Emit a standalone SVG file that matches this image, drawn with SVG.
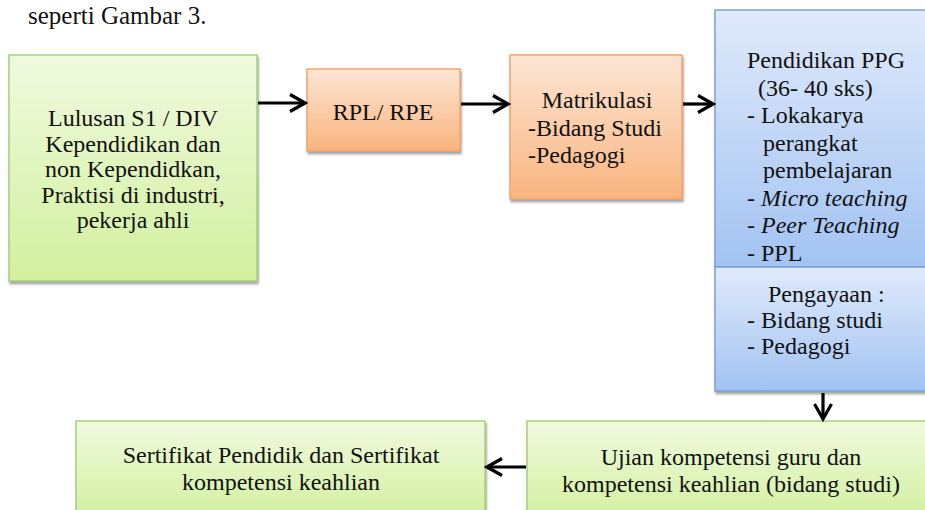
<svg xmlns="http://www.w3.org/2000/svg" width="925" height="510" viewBox="0 0 925 510">
<defs>
<linearGradient id="gGreen" x1="0" y1="0" x2="0" y2="1">
<stop offset="0" stop-color="#f0fadf"/>
<stop offset="1" stop-color="#d2f09e"/>
</linearGradient>
<linearGradient id="gOrange" x1="0" y1="0" x2="0" y2="1">
<stop offset="0" stop-color="#fde6d5"/>
<stop offset="1" stop-color="#f9b47f"/>
</linearGradient>
<linearGradient id="gBlue" x1="0" y1="0" x2="0" y2="1">
<stop offset="0" stop-color="#e0eafb"/>
<stop offset="1" stop-color="#a2c3f2"/>
</linearGradient>
<filter id="shadow" x="-5%" y="-5%" width="110%" height="115%">
<feDropShadow dx="1" dy="2.5" stdDeviation="1.2" flood-color="#7a7a7a" flood-opacity="0.7"/>
</filter>
<marker id="chev" viewBox="0 0 20 20" refX="17" refY="10" markerWidth="20" markerHeight="20" markerUnits="userSpaceOnUse" orient="auto">
<path d="M2,1.5 L17,10 L2,18.5" fill="none" stroke="#000" stroke-width="3.2" stroke-linejoin="miter"/>
</marker>
</defs>
<style>
text{font-family:"Liberation Serif","Times New Roman",serif;font-size:24px;fill:#111111}
.c{text-anchor:middle}
.green{fill:url(#gGreen);stroke:#a6d27a;stroke-width:1.5;filter:url(#shadow)}
.orange{fill:url(#gOrange);stroke:#f6a468;stroke-width:1.5;filter:url(#shadow)}
.blue{fill:url(#gBlue);stroke:#79a3dc;stroke-width:1.5;filter:url(#shadow)}
.conn{fill:none;stroke:#000;stroke-width:3.2;marker-end:url(#chev)}
</style>
<rect width="925" height="510" fill="#ffffff"/>
<text x="28" y="24" style="font-size:25px">seperti Gambar 3.</text>

<g id="node-lulusan">
<rect class="green" x="9" y="55" width="248" height="226"/>
<text class="c" x="133" y="126">Lulusan S1 / DIV</text>
<text class="c" x="133" y="151.5">Kependidikan dan</text>
<text class="c" x="133" y="177">non Kependidkan,</text>
<text class="c" x="133" y="202.5">Praktisi di industri,</text>
<text class="c" x="133" y="228">pekerja ahli</text>
</g>

<g id="node-rpl">
<rect class="orange" x="307" y="69" width="153" height="82"/>
<text class="c" x="383" y="120">RPL/ RPE</text>
</g>

<g id="node-matrikulasi">
<rect class="orange" x="510" y="55" width="172" height="144"/>
<text class="c" x="597" y="108">Matrikulasi</text>
<text x="528" y="136">-Bidang Studi</text>
<text x="528" y="163">-Pedagogi</text>
</g>

<g id="node-ppg">
<rect class="blue" x="715" y="10" width="230" height="257"/>
<text x="747" y="68">Pendidikan PPG</text>
<text x="758" y="95.5">(36- 40 sks)</text>
<text x="747" y="123">- Lokakarya</text>
<text x="763" y="150.5">perangkat</text>
<text x="763" y="178">pembelajaran</text>
<text x="747" y="205.5">- <tspan font-style="italic">Micro teaching</tspan></text>
<text x="747" y="233">- <tspan font-style="italic">Peer Teaching</tspan></text>
<text x="747" y="261">- PPL</text>
</g>

<g id="node-pengayaan">
<rect class="blue" x="715" y="267" width="230" height="124"/>
<text x="768" y="302">Pengayaan :</text>
<text x="747" y="328">- Bidang studi</text>
<text x="747" y="354">- Pedagogi</text>
</g>

<g id="node-ujian">
<rect class="green" x="527" y="421" width="409" height="100"/>
<text class="c" x="731" y="465">Ujian kompetensi guru dan</text>
<text class="c" x="731" y="492">kompetensi keahlian (bidang studi)</text>
</g>

<g id="node-sertifikat">
<rect class="green" x="76" y="421" width="409" height="100"/>
<text class="c" x="281" y="463">Sertifikat Pendidik dan Sertifikat</text>
<text class="c" x="281" y="490">kompetensi keahlian</text>
</g>

<g id="connectors">
<line class="conn" x1="258" y1="103" x2="305" y2="103"/>
<line class="conn" x1="461" y1="104" x2="508" y2="104"/>
<line class="conn" x1="683" y1="104" x2="713" y2="104"/>
<line class="conn" x1="823" y1="393" x2="823" y2="419"/>
<line class="conn" x1="526" y1="467" x2="487" y2="467"/>
</g>
</svg>
